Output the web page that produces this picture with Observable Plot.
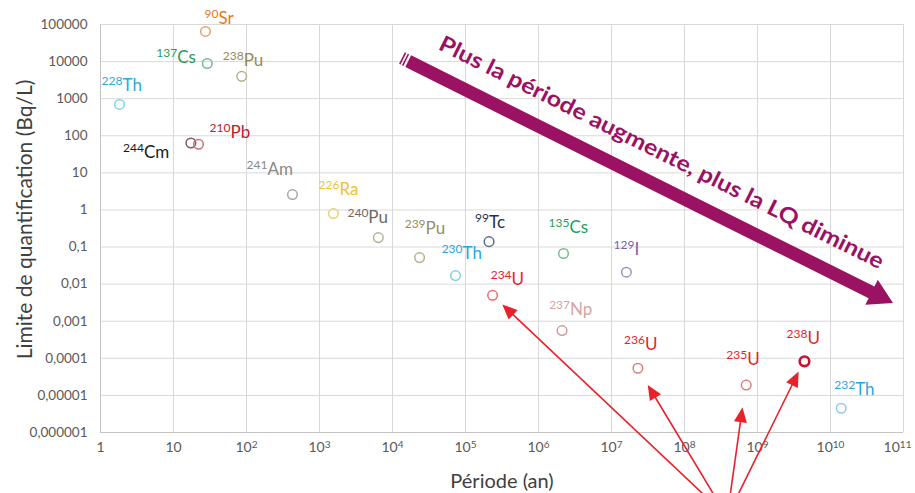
<!DOCTYPE html>
<html>
<head>
<meta charset="utf-8">
<script src="https://cdn.jsdelivr.net/npm/d3@7"></script>
<script src="https://cdn.jsdelivr.net/npm/@observablehq/plot@0.6"></script>
<style>
  body { margin: 0; background: #fff; }
  #chart { width: 915px; height: 493px; overflow: hidden; }
</style>
</head>
<body>
<div id="chart"></div>
<script>
// ---- Data ----
const masses    = ["228","90","137","238","244","210","241","226","240","239","230","99","234","135","237","129","236","235","238","232"];
const elements  = ["Th","Sr","Cs","Pu","Cm","Pb","Am","Ra","Pu","Pu","Th","Tc","U","Cs","Np","I","U","U","U","Th"];
const halfLives = [1.82, 27.4, 29, 86, 17.3, 22, 426, 1550, 6400, 23500, 73000, 2.1e5, 2.35e5, 2.2e6, 2.1e6, 1.6e7, 2.3e7, 7.0e8, 4.4e9, 1.4e10];
const lqValues  = [700, 65000, 8900, 4000, 64, 59, 2.6, 0.8, 0.18, 0.052, 0.017, 0.14, 0.005, 0.067, 0.00056, 0.021, 5.4e-5, 1.9e-5, 8.3e-5, 4.5e-6];

const labelColors  = ["#2fa8dc","#e07a1f","#2a9d5c","#948a5c","#1a1a1a","#c0202a","#8a8a8a","#f2c12e","#6e6a5e","#958d6a","#2aa6df","#1f3050","#e5242a","#23a05a","#d4a5a5","#7a5ea8","#e3262b","#e3262b","#e3262b","#2aa6df"];
const markerColors = ["#86cff0","#e8a070","#6cbf8c","#b8ae88","#7a5a5a","#d07070","#a8a8a8","#f0d070","#b5b09a","#b8b090","#80cfee","#5a6a88","#e07070","#70bf90","#d09a9a","#a090c0","#d88080","#d88080","#cc1030","#90cbe8"];

// label anchor offsets (px) relative to each point: [dx, dy of element baseline]
const labelOffsets = [[3,-13],[13,-7],[-30,0],[2,-10],[-47,15],[32,-6],[-25,-20],[6,-19],[-10,-15],[6,-24],[7,-17],[0,-14],[19,-10],[6,-20],[8,-16],[8,-17],[7,-18],[1,-20],[3,-17],[14,-13]];

const xTicks = [1, 10, 1e2, 1e3, 1e4, 1e5, 1e6, 1e7, 1e8, 1e9, 1e10, 1e11];
const xTickLabels = ["1","10","10^2","10^3","10^4","10^5","10^6","10^7","10^8","10^9","10^10","10^11"];
const yTicks = [1e5, 1e4, 1e3, 100, 10, 1, 0.1, 0.01, 0.001, 1e-4, 1e-5, 1e-6];
const yTickLabels = ["100000","10000","1000","100","10","1","0,1","0,01","0,001","0,0001","0,00001","0,000001"];

const xTitle = "Période (an)";
const yTitle = "Limite de quantification (Bq/L)";
const trendText = "Plus la période augmente, plus la LQ diminue";
const trendFrom = [13700, 12100];   // data coords of the big arrow tail
const trendTo   = [7.3e10, 0.0030]; // data coords of the big arrow tip
const pointerTargets = [12, 16, 17, 18]; // indices of 234U, 236U, 235U, 238U
const pointerInsets  = [14, 20, 23, 12];
const pointerTail = [3.9e8, 5.2e-9];

const isotopes = masses.map((m, i) => ({
  mass: m, element: elements[i], period: halfLives[i], lq: lqValues[i],
  labelColor: labelColors[i], markerColor: markerColors[i],
  dx: labelOffsets[i][0], dy: labelOffsets[i][1], thick: i === 18
}));

const FONT = "Lato, 'Open Sans', sans-serif";
const purple = "#9c1262";
const red = "#e8222b";

function annotations(index, scales) {
  const {x, y} = scales;
  const g = d3.create("svg:g");
  // big trend arrow
  const x0 = x(trendFrom[0]), y0 = y(trendFrom[1]);
  const x1 = x(trendTo[0]), y1 = y(trendTo[1]);
  const ang = Math.atan2(y1 - y0, x1 - x0) * 180 / Math.PI;
  const L = Math.hypot(x1 - x0, y1 - y0);
  const hw = 6.5, headL = 24, headW = 14;
  const ga = g.append("g").attr("transform", `translate(${x0},${y0}) rotate(${ang})`);
  ga.append("path")
    .attr("d", `M7,${-hw} L${L - headL},${-hw} L${L - headL},${-headW} L${L},0 L${L - headL},${headW} L${L - headL},${hw} L7,${hw} Z`)
    .attr("fill", purple);
  ga.append("rect").attr("x", 0).attr("y", -hw).attr("width", 1.6).attr("height", 2 * hw).attr("fill", purple);
  ga.append("rect").attr("x", 3.2).attr("y", -hw).attr("width", 1.6).attr("height", 2 * hw).attr("fill", purple);
  ga.append("text")
    .attr("x", L / 2).attr("y", -24)
    .attr("text-anchor", "middle")
    .attr("font-family", FONT).attr("font-weight", "bold").attr("font-size", 22)
    .attr("fill", purple)
    .attr("textLength", 494).attr("lengthAdjust", "spacingAndGlyphs")
    .text(trendText);
  // red pointer arrows
  const tx = x(pointerTail[0]), ty = y(pointerTail[1]);
  pointerTargets.forEach((k, j) => {
    const d = isotopes[k];
    const px = x(d.period), py = y(d.lq);
    const len = Math.hypot(px - tx, py - ty);
    const ux = (px - tx) / len, uy = (py - ty) / len;
    const tipX = px - ux * pointerInsets[j], tipY = py - uy * pointerInsets[j];
    const hl = 15, hwid = 6.5;
    const bx = tipX - ux * hl, by = tipY - uy * hl;
    g.append("line").attr("x1", tx).attr("y1", ty).attr("x2", bx + ux * 2).attr("y2", by + uy * 2)
      .attr("stroke", red).attr("stroke-width", 1.6);
    g.append("path")
      .attr("d", `M${tipX},${tipY} L${bx - uy * hwid},${by + ux * hwid} L${bx + uy * hwid},${by - ux * hwid} Z`)
      .attr("fill", red);
  });
  return g.node();
}

const labelMarks = isotopes.flatMap(d => [
  Plot.text([d], {x: "period", y: "lq", text: "mass", dx: d.dx, dy: d.dy - 6,
    textAnchor: "end", lineAnchor: "bottom", fontSize: 12, fill: d.labelColor, fontFamily: FONT}),
  Plot.text([d], {x: "period", y: "lq", text: "element", dx: d.dx, dy: d.dy,
    textAnchor: "start", lineAnchor: "bottom", fontSize: 17, fill: d.labelColor, fontFamily: FONT})
]);

const chart = Plot.plot({
  width: 915,
  height: 493,
  marginLeft: 100,
  marginRight: 12,
  marginTop: 24,
  marginBottom: 61,
  style: {fontFamily: FONT, background: "#fff"},
  x: {type: "log", domain: [1, 1e11], label: null},
  y: {type: "log", domain: [1e-6, 1e5], label: null},
  marks: [
    Plot.gridX(xTicks, {stroke: "#d9d9d9", strokeOpacity: 1}),
    Plot.gridY(yTicks, {stroke: "#d9d9d9", strokeOpacity: 1}),
    Plot.ruleX([1], {stroke: "#c4c4c4"}),
    Plot.ruleY([1e-6], {stroke: "#c4c4c4"}),
    Plot.axisX({ticks: xTicks, tickFormat: d => xTickLabels[xTicks.indexOf(d)], tickSize: 0, tickPadding: 10,
      fontSize: 14, fill: "#595959", label: null}),
    Plot.axisY({ticks: yTicks, tickFormat: d => yTickLabels[yTicks.indexOf(d)], tickSize: 0, tickPadding: 13,
      fontSize: 13.5, fill: "#595959", label: null}),
    Plot.text([yTitle], {frameAnchor: "left", dx: -75, dy: -9, rotate: -90, text: d => d,
      textAnchor: "middle", lineAnchor: "middle", fontSize: 21, fill: "#404040", fontFamily: FONT}),
    Plot.text([xTitle], {frameAnchor: "bottom", dy: 49, text: d => d,
      textAnchor: "middle", lineAnchor: "middle", fontSize: 20, fill: "#404040", fontFamily: FONT}),
    Plot.dot(isotopes, {x: "period", y: "lq", r: 4.8, stroke: "markerColor", fill: "none",
      strokeWidth: d => d.thick ? 2.6 : 1.5}),
    ...labelMarks,
    annotations
  ]
});

// render exponent tick labels as superscripts
d3.select(chart).selectAll('g[aria-label="x-axis tick label"] text').each(function () {
  const t = this.textContent;
  if (t.includes("^")) {
    const [base, exp] = t.split("^");
    const sel = d3.select(this);
    sel.text(base);
    sel.append("tspan").attr("dy", "-0.45em").attr("font-size", "0.72em").text(exp);
    if (exp === "11") sel.attr("dx", -6);
  }
});

document.getElementById("chart").appendChild(chart);
</script>
</body>
</html>
